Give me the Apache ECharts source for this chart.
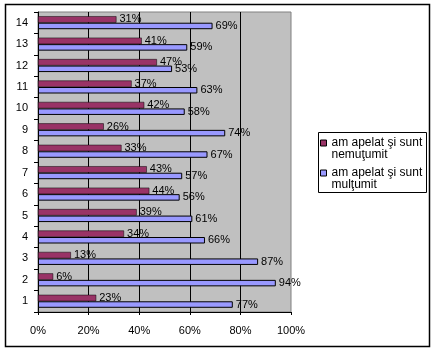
<!DOCTYPE html>
<html><head><meta charset="utf-8">
<script src="https://cdn.jsdelivr.net/npm/echarts@6/dist/echarts.min.js"></script>
<style>html,body{margin:0;padding:0;background:#fff}#c{width:436px;height:352px}</style>
</head><body><div id="c"></div>
<script>
var categories = ['1','2','3','4','5','6','7','8','9','10','11','12','13','14'];
var seriesNames = ['am apelat şi sunt nemuţumit', 'am apelat şi sunt mulţumit'];
var nemultumit = [23, 6, 13, 34, 39, 44, 43, 33, 26, 42, 37, 47, 41, 31];
var multumit = [77, 94, 87, 66, 61, 56, 57, 67, 74, 58, 63, 53, 59, 69];
var xTicks = [0, 20, 40, 60, 80, 100];

var FONT = 'Liberation Sans, Arial, sans-serif';
var chart = echarts.init(document.getElementById('c'));
chart.setOption({
  animation: false,
  graphic: [{
    type: 'rect', silent: true, z: -10,
    shape: {x: 5.5, y: 4.5, width: 424, height: 342},
    style: {fill: '#fff', stroke: '#000', lineWidth: 1.5}
  }, {
    type: 'rect', silent: true, z: -5,
    shape: {x: 318.5, y: 132.5, width: 108, height: 60},
    style: {fill: '#fff', stroke: '#000', lineWidth: 1}
  }],
  grid: {
    left: 38, right: 145, top: 12, bottom: 40,
    show: true, backgroundColor: '#C0C0C0', borderColor: '#808080', borderWidth: 1
  },
  legend: {
    orient: 'vertical', left: 320, top: 125,
    data: seriesNames,
    icon: 'rect', itemWidth: 6, itemHeight: 6, itemGap: -6,
    borderWidth: 0, padding: 0,
    formatter: function (n) { return ' \n' + n.replace('sunt ', 'sunt\n'); },
    textStyle: {fontFamily: FONT, fontSize: 12, color: '#000', lineHeight: 12},
    itemStyle: {borderColor: '#000', borderWidth: 1}
  },
  xAxis: {
    type: 'value', min: 0, max: 100, interval: 20,
    axisLine: {show: true, lineStyle: {color: '#000'}},
    axisTick: {show: true, length: 3, lineStyle: {color: '#000'}},
    axisLabel: {
      margin: 13, fontFamily: FONT, fontSize: 11, color: '#000',
      formatter: function (v) { return xTicks.indexOf(v) >= 0 ? v + '%' : ''; }
    },
    splitLine: {show: true, showMinLine: false, showMaxLine: false, lineStyle: {color: '#000', width: 1}}
  },
  yAxis: {
    type: 'category', data: categories,
    axisLine: {show: true, lineStyle: {color: '#000'}},
    axisTick: {show: true, length: 4, lineStyle: {color: '#000'}},
    axisLabel: {margin: 10, fontFamily: FONT, fontSize: 11, color: '#000'},
    splitLine: {show: false}
  },
  series: [{
    name: seriesNames[0], type: 'bar', data: nemultumit,
    barWidth: 6.5, barGap: '0%',
    itemStyle: {color: '#993366', borderColor: '#000', borderWidth: 0.5},
    label: {show: true, position: 'right', distance: 3, formatter: '{c}%', fontFamily: FONT, fontSize: 11, color: '#000'}
  }, {
    name: seriesNames[1], type: 'bar', data: multumit,
    barWidth: 6.5, barGap: '0%',
    itemStyle: {color: '#9999FF', borderColor: '#000', borderWidth: 1},
    label: {show: true, position: 'right', distance: 3, formatter: '{c}%', fontFamily: FONT, fontSize: 11, color: '#000'}
  }]
});
</script></body></html>
